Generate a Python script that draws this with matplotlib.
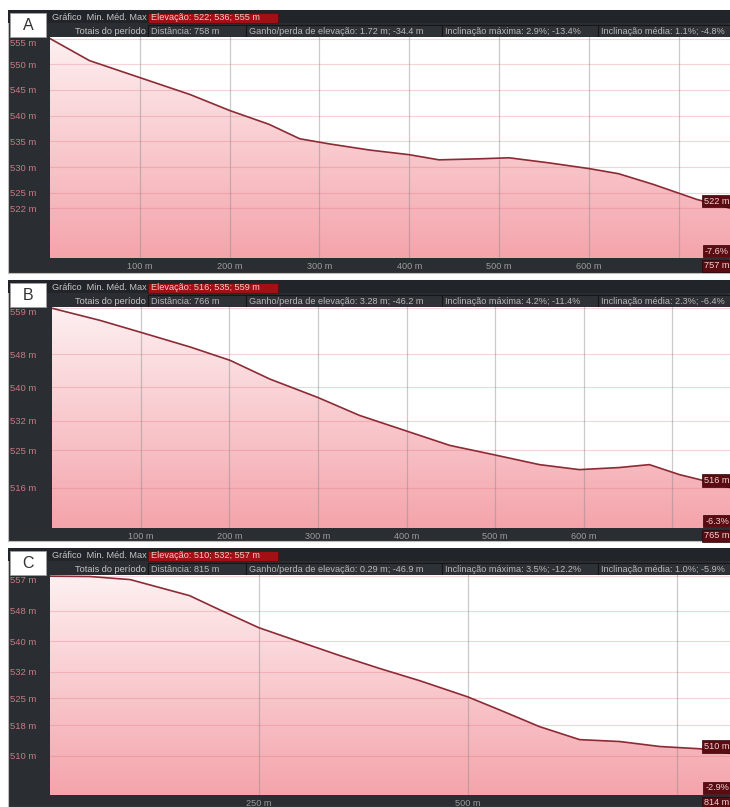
#!/usr/bin/env python3
"""Elevation profiles A/B/C - recreated from GPS track report screenshots."""

import numpy as np
import matplotlib
matplotlib.use("Agg")
import matplotlib.pyplot as plt
from matplotlib.patches import Rectangle, Polygon
from matplotlib.colors import LinearSegmentedColormap

plt.rcParams['font.family'] = ['Liberation Sans', 'DejaVu Sans']

W, H = 730, 807
FS = 6.6

# Panel A data
dist_a = [0, 44, 100, 156, 200, 244, 278, 311, 356, 400, 433, 478, 511, 556, 600, 633, 672, 720, 757]
elev_a = [555, 550.7, 547.4, 544.1, 541.0, 538.3, 535.5, 534.5, 533.3, 532.4, 531.4, 531.6,
          531.8, 530.8, 529.7, 528.7, 526.6, 523.7, 522]
yticks_a = [555, 550, 545, 540, 535, 530, 525, 522]
xticks_a = [100, 200, 300, 400, 500, 600, 700]
xlabels_a = ['100 m', '200 m', '300 m', '400 m', '500 m', '600 m', '']
elev_txt_a = 'Elevação: 522; 536; 555 m'
totals_a = ['Distância: 758 m', 'Ganho/perda de elevação: 1.72 m; -34.4 m',
            'Inclinação máxima: 2.9%; -13.4%', 'Inclinação média: 1.1%; -4.8%']
ends_a = ['522 m', '-7.6%', '757 m']

# Panel B data
dist_b = [0, 54, 99, 156, 201, 246, 300, 347, 398, 449, 498, 550, 595, 640, 674, 708, 731, 765]
elev_b = [559, 556.1, 553.3, 549.7, 546.5, 542.0, 537.6, 533.3, 529.7, 526.1, 523.9, 521.5,
          520.3, 520.8, 521.5, 519.1, 517.9, 516]
yticks_b = [559, 548, 540, 532, 525, 516]
xticks_b = [100, 200, 300, 400, 500, 600, 700]
xlabels_b = ['100 m', '200 m', '300 m', '400 m', '500 m', '600 m', '']
elev_txt_b = 'Elevação: 516; 535; 559 m'
totals_b = ['Distância: 766 m', 'Ganho/perda de elevação: 3.28 m; -46.2 m',
            'Inclinação máxima: 4.2%; -11.4%', 'Inclinação média: 2.3%; -6.4%']
ends_b = ['516 m', '-6.3%', '765 m']

# Panel C data
dist_c = [0, 48, 96, 167, 203, 250, 299, 347, 395, 443, 500, 538, 586, 634, 682, 730, 778, 814]
elev_c = [557, 556.9, 556.1, 551.9, 548.2, 543.5, 539.8, 536.2, 532.8, 529.6, 525.4, 522.0,
          517.6, 514.2, 513.7, 512.4, 511.8, 510.6]
yticks_c = [557, 548, 540, 532, 525, 518, 510]
xticks_c = [250, 500, 750]
xlabels_c = ['250 m', '500 m', '']
elev_txt_c = 'Elevação: 510; 532; 557 m'
totals_c = ['Distância: 815 m', 'Ganho/perda de elevação: 0.29 m; -46.9 m',
            'Inclinação máxima: 3.5%; -12.2%', 'Inclinação média: 1.0%; -5.9%']
ends_c = ['510 m', '-2.9%', '814 m']

# layout (pixels): frame top, plot top, plot bottom, frame bottom, plot left, y limits
LAYOUT = [
    dict(letter='A', top=10, ptop=37, pbot=258, fbot=273, left=50, ylim=(512.3, 555.3)),
    dict(letter='B', top=280, ptop=307, pbot=528, fbot=541, left=52, ylim=(506.3, 559.3)),
    dict(letter='C', top=548, ptop=575, pbot=795, fbot=807, left=50, ylim=(499.7, 557.3)),
]
BOX_EDGES = [148, 246, 442, 598, 730]

PANEL_BG = '#2a2d31'
LINE_C = '#8c2b35'
TXT = '#c6c6c6'
fill_cmap = LinearSegmentedColormap.from_list('pk', ['#fdf0f1', '#f4a4ab'])


def draw_header(bx, lay, elev_txt, totals):
    top = lay['top']
    bx.add_patch(Rectangle((8, top), 722, lay['fbot'] - top, fc=PANEL_BG, ec='#bdbdbd', lw=0.8))
    bx.add_patch(Rectangle((8, top), 722, 13, fc='#212428', ec='none'))
    bx.text(147, top + 7.5, 'Gráfico  Min. Méd. Max', ha='right', va='center', color=TXT, fontsize=FS)
    bx.add_patch(Rectangle((148, top + 3), 130, 9.5, fc='#a01014', ec='#600808', lw=0.5))
    bx.text(151, top + 8, elev_txt, ha='left', va='center', color='#f1caca', fontsize=FS)
    bx.text(146, top + 21, 'Totais do período', ha='right', va='center', color=TXT, fontsize=FS)
    for i, t in enumerate(totals):
        x0, x1 = BOX_EDGES[i], BOX_EDGES[i + 1]
        bx.add_patch(Rectangle((x0, top + 14.5), x1 - x0, 12, fc='#2e3135', ec='#141618', lw=0.8))
        bx.text(x0 + 3, top + 21, t, ha='left', va='center', color='#b9b9b9', fontsize=FS)
    bx.add_patch(Rectangle((10, top + 3), 36, 24, fc='white', ec='#a0a0a0', lw=0.6))
    bx.text(28, top + 15.5, lay['letter'], ha='center', va='center', color='#333333',
            fontsize=11.5)


def draw_profile(fig, lay, dist, elev, yticks, xticks, xlabels, ends):
    left, ptop, pbot = lay['left'], lay['ptop'], lay['pbot']
    ax = fig.add_axes([left / W, 1 - pbot / H, (W - left) / W, (pbot - ptop) / H])
    ymin, ymax = lay['ylim']
    xmax = dist[-1]
    ax.set_xlim(0, xmax)
    ax.set_ylim(ymin, ymax)
    ax.set_facecolor('white')
    for s in ax.spines.values():
        s.set_visible(False)

    # gradient fill under the profile
    grad = np.linspace(0, 1, 256).reshape(-1, 1)
    im = ax.imshow(grad, extent=[0, xmax, ymin, ymax], aspect='auto', cmap=fill_cmap,
                   origin='upper', zorder=2)
    verts = list(zip(dist, elev)) + [(xmax, ymin), (0, ymin)]
    poly = Polygon(verts, closed=True, fc='none', ec='none')
    ax.add_patch(poly)
    im.set_clip_path(poly)

    # grid lines on top of the fill
    for v in yticks:
        ax.axhline(v, color='#e07882', alpha=0.32, lw=0.8, zorder=3)
    for v in xticks:
        ax.axvline(v, color='#8a8a8a', alpha=0.45, lw=0.9, zorder=3)

    ax.plot(dist, elev, color=LINE_C, lw=1.2, zorder=4)

    ax.set_yticks(yticks)
    ax.set_yticklabels([f'{v} m' for v in yticks])
    ax.tick_params(axis='y', length=0, pad=(left - 10) / 1.389, labelcolor='#c27c84', labelsize=FS + 0.2)
    for i, lab in enumerate(ax.get_yticklabels()):
        lab.set_ha('left')
        if i == 0:
            lab.set_va('top')
    ax.set_xticks(xticks)
    ax.set_xticklabels(xlabels)
    ax.tick_params(axis='x', length=0, pad=3, labelcolor='#9c9c9c', labelsize=FS)

    box = dict(boxstyle='square,pad=0.2', fc='#5a0c12', ec='#2a0406', lw=0.5)
    ax.annotate(ends[0], xy=(xmax, elev[-1]), xytext=(-1, 7), textcoords='offset pixels',
                ha='right', va='center', color='#f0d2d2', fontsize=FS, bbox=box,
                annotation_clip=False, zorder=6)
    ax.annotate(ends[1], xy=(xmax, ymin), xytext=(-1, 7), textcoords='offset pixels',
                ha='right', va='center', color='#f0d2d2', fontsize=FS, bbox=box,
                annotation_clip=False, zorder=6)
    ax.annotate(ends[2], xy=(xmax, ymin), xytext=(-1, -8), textcoords='offset pixels',
                ha='right', va='center', color='#f0d2d2', fontsize=FS, bbox=box,
                annotation_clip=False, zorder=6)
    return ax


fig = plt.figure(figsize=(W / 100, H / 100), dpi=100)
bx = fig.add_axes([0, 0, 1, 1])
bx.set_xlim(0, W)
bx.set_ylim(H, 0)
bx.axis('off')

panels = [
    (dist_a, elev_a, yticks_a, xticks_a, xlabels_a, elev_txt_a, totals_a, ends_a),
    (dist_b, elev_b, yticks_b, xticks_b, xlabels_b, elev_txt_b, totals_b, ends_b),
    (dist_c, elev_c, yticks_c, xticks_c, xlabels_c, elev_txt_c, totals_c, ends_c),
]

for lay, (d, e, yt, xt, xl, et, tot, en) in zip(LAYOUT, panels):
    draw_header(bx, lay, et, tot)
    draw_profile(fig, lay, d, e, yt, xt, xl, en)

fig.savefig('out.png', dpi=100)
